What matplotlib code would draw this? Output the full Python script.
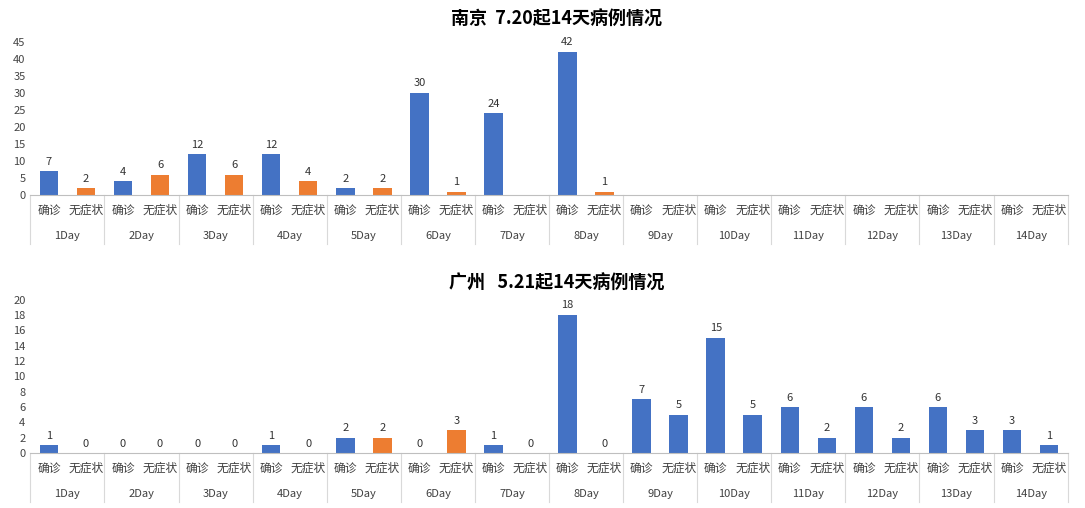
import matplotlib
matplotlib.use("Agg")
import matplotlib.pyplot as plt
from matplotlib.transforms import blended_transform_factory as btf

plt.rcParams['font.family'] = ['Noto Sans CJK SC', 'DejaVu Sans']

days = [f"{i}Day" for i in range(1, 15)]
subs = ["确诊", "无症状"]
nj_conf = [7, 4, 12, 12, 2, 30, 24, 42, None, None, None, None, None, None]
nj_asym = [2, 6, 6, 4, 2, 1, None, 1, None, None, None, None, None, None]
gz_conf = [1, 0, 0, 1, 2, 0, 1, 18, 7, 15, 6, 6, 6, 3]
gz_asym = [0, 0, 0, 0, 2, 3, 0, 0, 5, 5, 2, 2, 3, 1]
gz_asym_blue_from = 9  # day index from which asymptomatic bars are blue

BLUE = "#4472C4"
ORANGE = "#ED7D31"

fig = plt.figure(figsize=(10.85, 5.08), dpi=100)

def panel(rect, title, conf, asym, ymax, step, title_y, blue_from=None):
    ax = fig.add_axes(rect)
    xs, vals, cols = [], [], []
    for i in range(14):
        for j, v in enumerate((conf[i], asym[i])):
            x = i * 2 + j
            if v is None:
                continue
            c = BLUE if j == 0 else (BLUE if (blue_from is not None and i + 1 >= blue_from) else ORANGE)
            xs.append(x); vals.append(v); cols.append(c)
    ax.bar(xs, vals, width=0.5, color=cols)
    for x, v in zip(xs, vals):
        ax.text(x, v + ymax * 0.03, str(v), ha='center', va='bottom', fontsize=8, color='#333333')
    ax.set_xlim(-0.5, 27.5)
    ax.set_ylim(0, ymax)
    ax.set_yticks(range(0, ymax + 1, step))
    ax.tick_params(axis='y', labelsize=8, length=0, colors='#444444')
    ax.set_xticks([])
    for s in ('top', 'right', 'left'):
        ax.spines[s].set_visible(False)
    ax.spines['bottom'].set_color('#BFBFBF')
    tr = btf(ax.transData, ax.transAxes)
    for i in range(14):
        for j in range(2):
            ax.text(i * 2 + j, -0.1, subs[j], ha='center', va='center', fontsize=8.5,
                    color='#404040', transform=tr)
        ax.text(i * 2 + 0.5, -0.265, days[i], ha='center', va='center', fontsize=8,
                color='#404040', transform=tr)
    for k in range(15):
        ax.plot([k * 2 - 0.5] * 2, [0, -0.32], color='#D9D9D9', lw=0.8,
                transform=tr, clip_on=False)
    fig.text(0.513, title_y, title, ha='center', va='center', fontsize=13, fontweight='bold')
    return ax

panel([0.028, 0.616, 0.956, 0.302], "南京  7.20起14天病例情况", nj_conf, nj_asym, 45, 5, 0.962)
panel([0.028, 0.108, 0.956, 0.302], "广州   5.21起14天病例情况", gz_conf, gz_asym, 20, 2, 0.443,
      blue_from=gz_asym_blue_from)

fig.savefig("out.png", dpi=100, facecolor='white')
